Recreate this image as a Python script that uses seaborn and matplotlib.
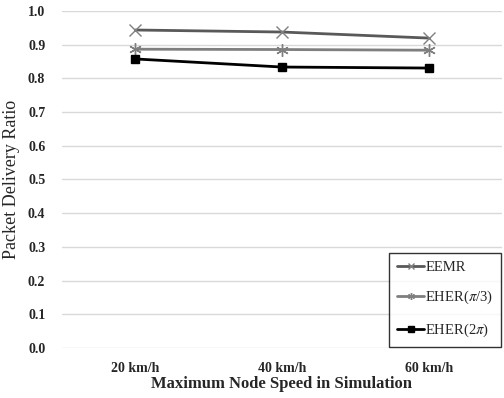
import matplotlib
matplotlib.use("Agg")
import matplotlib.pyplot as plt
import seaborn as sns
import pandas as pd

categories = ["20 km/h", "40 km/h", "60 km/h"]
eemr = [0.944, 0.938, 0.920]
eher_pi3 = [0.887, 0.886, 0.884]
eher_2pi = [0.858, 0.834, 0.831]
series_names = ["EEMR", r"EHER($\pi$/3)", r"EHER(2$\pi$)"]
yticks = [0.0, 0.1, 0.2, 0.3, 0.4, 0.5, 0.6, 0.7, 0.8, 0.9, 1.0]

sns.set_theme(style="white")
plt.rcParams["font.family"] = ["Liberation Serif", "DejaVu Serif"]
plt.rcParams["mathtext.fontset"] = "stix"

fig = plt.figure(figsize=(5.04, 3.98), dpi=100)
ax = fig.add_axes([0.123, 0.126, 0.873, 0.846])

styles = [
    dict(color="#595959", marker="x", mfc="#808080", mec="#808080", ms=9, mew=1.0, lw=2.0),
    dict(color="#7f7f7f", marker=(6, 2, 0), mfc="#7f7f7f", mec="#7f7f7f", ms=9, mew=1.0, lw=2.0),
    dict(color="#000000", marker="s", mfc="#000000", mec="#000000", ms=6, mew=1.0, lw=2.0),
]
for vals, name, st in zip([eemr, eher_pi3, eher_2pi], series_names, styles):
    df = pd.DataFrame({"x": categories, "y": vals})
    sns.lineplot(data=df, x="x", y="y", ax=ax, label=name, color=st["color"],
                 marker=st["marker"], markersize=st["ms"], markerfacecolor=st["mfc"],
                 markeredgecolor=st["mec"], markeredgewidth=st["mew"], linewidth=st["lw"])

ax.set_xlim(-0.5, 2.5)
ax.set_ylim(0, 1.0)
ax.set_yticks(yticks)
ax.set_yticklabels([f"{t:.1f}" for t in yticks], fontweight="bold", fontsize=10)
for lab in ax.get_xticklabels():
    lab.set_fontweight("bold")
    lab.set_fontsize(10)
ax.grid(axis="y", color="#d9d9d9", linewidth=1.0)
ax.set_axisbelow(True)
for s in ax.spines.values():
    s.set_visible(False)
ax.tick_params(axis="y", length=0, pad=12)
ax.tick_params(axis="x", length=0, pad=10)
ax.set_xlabel("Maximum Node Speed in Simulation", fontweight="bold", fontsize=12, labelpad=1)
ax.set_ylabel("Packet Delivery Ratio", fontsize=13, labelpad=6)

leg = ax.legend(loc="lower right", fontsize=10.5, frameon=True, fancybox=False,
                edgecolor="black", handlelength=1.8, handletextpad=0.1,
                labelspacing=1.05, borderpad=0.55, borderaxespad=0.05,
                bbox_to_anchor=(1.0, 0.0))
leg.get_frame().set_linewidth(1.0)
for h in leg.legend_handles:
    h.set_markersize(5)

fig.savefig("out.png", dpi=100)
